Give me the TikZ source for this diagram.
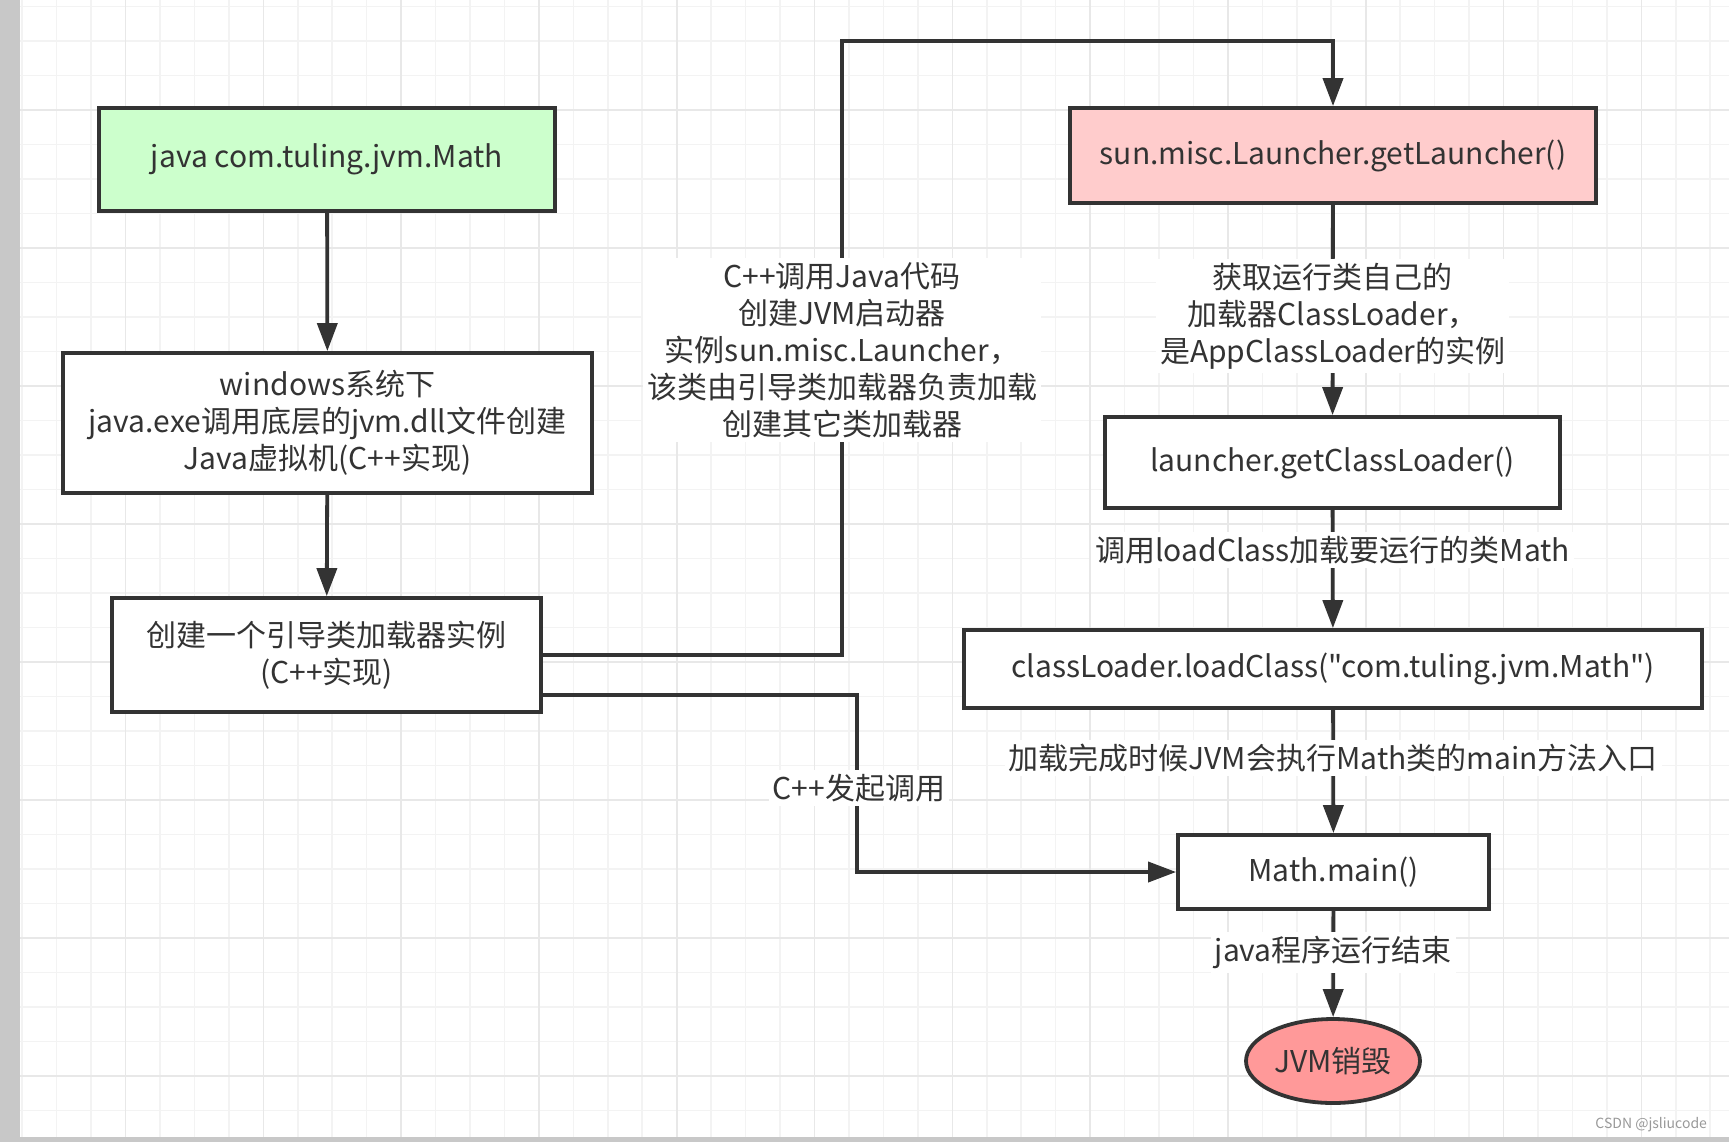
\documentclass[tikz,border=0pt]{standalone}
\usepackage{fontspec}
\setmainfont{Noto Sans CJK SC}[Ligatures=TeXOff]
\usepackage{xcolor}
\usetikzlibrary{shapes.geometric, arrows.meta, positioning}

\definecolor{linegray}{HTML}{333333}
\definecolor{greenfill}{HTML}{CCFFCC}
\definecolor{pinkfill}{HTML}{FFCCCC}
\definecolor{redfill}{HTML}{FF9999}
\definecolor{stripgray}{HTML}{C8C8C8}
\definecolor{gridminor}{HTML}{F3F3F3}
\definecolor{gridmajor}{HTML}{E8E8E8}

\begin{document}
\begin{tikzpicture}[
    x=0.5pt, y=-0.5pt,
    font=\fontsize{15}{18.5}\selectfont,
    text=linegray,
    box/.style={rectangle, draw=linegray, line width=1.9pt, fill=white, align=center, inner sep=0pt},
    lbl/.style={fill=white, align=center, inner sep=2pt},
    arrow/.style={-{Triangle[length=14pt,width=10pt]}, line width=1.9pt, draw=linegray}
]

% background grid
\useasboundingbox (0,0) rectangle (1729,1142);
\fill[white] (0,0) rectangle (1729,1142);
\foreach \i in {0,...,49} \draw[gridminor, line width=0.8pt] (22.15+34.45*\i,0) -- ++(0,1142);
\foreach \i in {0,...,32} \draw[gridminor, line width=0.8pt] (0,6.5+34.5*\i) -- ++(1729,0);
\foreach \i in {0,...,11} \draw[gridmajor, line width=0.8pt] (125.5+137.8*\i,0) -- ++(0,1142);
\foreach \i in {0,...,7} \draw[gridmajor, line width=0.8pt] (0,110+138*\i) -- ++(1729,0);
\fill[stripgray] (0,0) rectangle (20,1142);
\fill[stripgray] (0,1137) rectangle (1729,1142);

% left column
\node[box, fill=greenfill, minimum width=228pt, minimum height=51.5pt] (javacmd) at (327,159.5) {java com.tuling.jvm.Math};
\node[box, minimum width=264.5pt, minimum height=70pt] (jvmcreate) at (327.5,423) {windows系统下\\java.exe调用底层的jvm.dll文件创建\\Java虚拟机(C++实现)};
\node[box, minimum width=214.5pt, minimum height=57pt] (bootloader) at (326.5,655) {创建一个引导类加载器实例\\(C++实现)};

% right column
\node[box, fill=pinkfill, minimum width=263pt, minimum height=47.5pt] (getlauncher) at (1333,155.5) {sun.misc.Launcher.getLauncher()};
\node[box, minimum width=227.5pt, minimum height=45.5pt] (getloader) at (1332.5,462.5) {launcher.getClassLoader()};
\node[box, minimum width=369pt, minimum height=39pt] (loadclass) at (1333,669) {classLoader.loadClass("com.tuling.jvm.Math")};
\node[box, minimum width=155.5pt, minimum height=37pt] (mathmain) at (1333.5,872) {Math.main()};
\node[box, ellipse, fill=redfill, minimum width=87pt, minimum height=42pt] (jvmend) at (1333,1061) {JVM销毁};

\coordinate (upleft) at (842,41);
\coordinate (downcorner) at (857,872);

\draw[arrow] (javacmd) -- (jvmcreate);
\draw[arrow] (jvmcreate) -- (bootloader);
\draw[arrow] (bootloader.east) -| (upleft) -| (getlauncher.north);
\draw[arrow] ([yshift=-20pt]bootloader.east) -| (downcorner) -- (mathmain.west);
\draw[arrow] (getlauncher) -- node[lbl, pos=0.53] {获取运行类自己的\\加载器ClassLoader，\\是AppClassLoader的实例} (getloader);
\draw[arrow] (getloader) -- node[lbl, pos=0.34] {调用loadClass加载要运行的类Math} (loadclass);
\draw[arrow] (loadclass) -- node[lbl, pos=0.39] {加载完成时候JVM会执行Math类的main方法入口} (mathmain);
\draw[arrow] (mathmain) -- node[lbl, pos=0.39] {java程序运行结束} (jvmend);

\node[lbl] (launchnote) at (842,350) {C++调用Java代码\\创建JVM启动器\\实例sun.misc.Launcher，\\该类由引导类加载器负责加载\\创建其它类加载器};
\node[lbl] (callnote) at (859,788) {C++发起调用};

\node[text=gray!80, font=\fontsize{7}{8}\selectfont, anchor=east] (credit) at (1714,1125) {CSDN @jsliucode};

\end{tikzpicture}
\end{document}
